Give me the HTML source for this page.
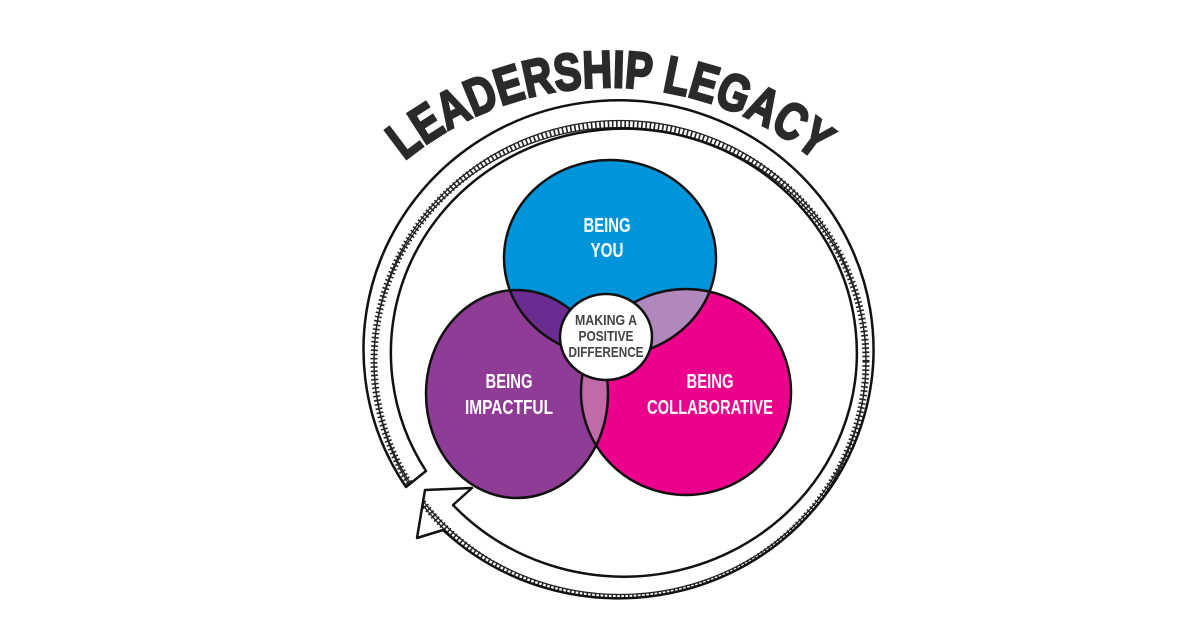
<!DOCTYPE html>
<html><head><meta charset="utf-8"><style>
html,body{margin:0;padding:0;background:#fff;}
svg{display:block;}
</style></head><body>
<svg width="1200" height="628" viewBox="0 0 1200 628" xmlns="http://www.w3.org/2000/svg">
<defs>
  <path id="titleArc" d="M381,182 A324,324 0 0 1 839,182"/>
  <ellipse id="cb" cx="610" cy="258" rx="106" ry="98"/>
  <ellipse id="cp" cx="517" cy="394" rx="91" ry="104"/>
  <ellipse id="ck" cx="686" cy="392" rx="105" ry="103"/>
  <clipPath id="clipB"><use href="#cb"/></clipPath>
  <clipPath id="clipP"><use href="#cp"/></clipPath>
  <path id="band" d="M406,487 A255,249 0 1 1 443,530 L417,538 L425,490 L472,488 L453,505 A233,224 0 1 0 426,471 Z"/>
  <clipPath id="clipBand"><use href="#band"/></clipPath>
</defs>

<use href="#band" fill="#fff"/>
<g clip-path="url(#clipBand)">
  <ellipse cx="620" cy="361" rx="246" ry="237" fill="none" stroke="#222" stroke-width="7" stroke-dasharray="1.6 2.6"/>
  <ellipse cx="620" cy="361" rx="246" ry="240.5" fill="none" stroke="#222" stroke-width="1.3"/>
  <ellipse cx="620" cy="361" rx="246" ry="233.5" fill="none" stroke="#222" stroke-width="1.3"/>
</g>
<use href="#band" fill="none" stroke="#111" stroke-width="2.5" stroke-linejoin="round"/>

<text font-family="'Liberation Sans',sans-serif" font-weight="bold" font-size="52" fill="#2a2a2a" stroke="#2a2a2a" stroke-width="2.5">
  <textPath href="#titleArc" startOffset="50%" text-anchor="middle" textLength="445" lengthAdjust="spacingAndGlyphs">LEADERSHIP LEGACY</textPath>
</text>

<use href="#cb" fill="#0095da"/>
<use href="#cp" fill="#8e3c96"/>
<use href="#ck" fill="#ec008c"/>
<g clip-path="url(#clipB)">
  <use href="#cp" fill="#6b2c91"/>
  <use href="#ck" fill="#b088bb"/>
</g>
<g clip-path="url(#clipP)">
  <use href="#ck" fill="#c06aa8"/>
</g>
<g fill="none" stroke="#111" stroke-width="2.5">
  <use href="#cb"/><use href="#cp"/><use href="#ck"/>
</g>
<ellipse cx="606" cy="337" rx="46" ry="43" fill="#fff" stroke="#111" stroke-width="2.5"/>

<g font-family="'Liberation Sans',sans-serif" font-weight="bold" text-anchor="middle">
  <text x="607" y="232" font-size="20" fill="#fff" textLength="47" lengthAdjust="spacingAndGlyphs">BEING</text>
  <text x="607" y="257" font-size="20" fill="#fff" textLength="33" lengthAdjust="spacingAndGlyphs">YOU</text>
  <text x="509" y="388" font-size="20" fill="#fff" textLength="47" lengthAdjust="spacingAndGlyphs">BEING</text>
  <text x="509" y="414" font-size="20" fill="#fff" textLength="88" lengthAdjust="spacingAndGlyphs">IMPACTFUL</text>
  <text x="710" y="388" font-size="20" fill="#fff" textLength="47" lengthAdjust="spacingAndGlyphs">BEING</text>
  <text x="710" y="414" font-size="20" fill="#fff" textLength="126" lengthAdjust="spacingAndGlyphs">COLLABORATIVE</text>
  <text x="606" y="325" font-size="15" fill="#444" textLength="62" lengthAdjust="spacingAndGlyphs">MAKING A</text>
  <text x="606" y="341" font-size="15" fill="#444" textLength="55" lengthAdjust="spacingAndGlyphs">POSITIVE</text>
  <text x="606" y="357" font-size="15" fill="#444" textLength="75" lengthAdjust="spacingAndGlyphs">DIFFERENCE</text>
</g>
</svg>
</body></html>
